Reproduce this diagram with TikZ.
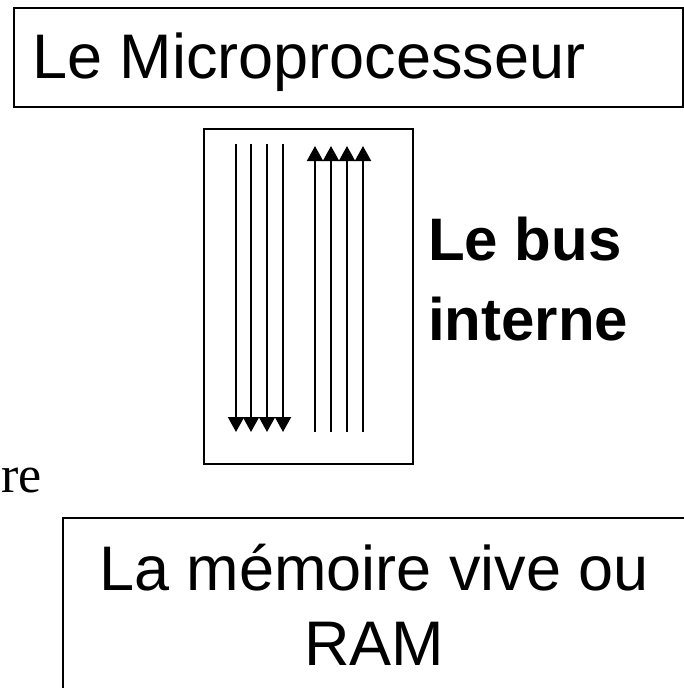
\documentclass[tikz,border=0pt]{standalone}
\usepackage{fontspec}
\setmainfont{Liberation Sans}
\newfontfamily\serifre{Liberation Serif}
\usetikzlibrary{arrows.meta}
\begin{document}
\begin{tikzpicture}[x=1pt,y=-1pt,
  boxframe/.style={draw,line width=1.6pt,inner sep=0,anchor=north west},
  bigtxt/.style={font=\fontsize{63}{75}\selectfont,inner sep=0},
  buslbl/.style={font=\fontsize{60}{80}\selectfont\bfseries,inner sep=0,anchor=base west},
  wire/.style={line width=2pt},
  tipend/.style={-{Triangle[width=16pt,length=15pt]}}]
\useasboundingbox (0,0) rectangle (684,688);
\clip (0,0) rectangle (684,688);
% top box
\node[boxframe,minimum width=669pt,minimum height=99pt] (topbox) at (13,7) {};
\node[bigtxt,anchor=base west] (toptxt) at (32,78) {Le Microprocesseur};
% bus box
\node[boxframe,minimum width=209pt,minimum height=335pt] (busbox) at (203,128) {};
\foreach \x in {236,251,267,283}{
  \draw[wire,tipend] (\x,144) -- (\x,432);
}
\foreach \x in {315,331,347,363}{
  \draw[wire,tipend] (\x,432) -- (\x,146);
}
\node[buslbl] (busA) at (428,260) {Le bus};
\node[buslbl] (busB) at (428,340) {interne};
% clipped serif text
\node[font=\serifre\fontsize{52}{60}\selectfont,inner sep=0,anchor=base east] (retxt) at (42,492) {re};
% bottom box
\node[boxframe,minimum width=660pt,minimum height=200pt] (rambox) at (62,517) {};
\node[bigtxt,anchor=base] (ramA) at (374,590) {La mémoire vive ou};
\node[bigtxt,anchor=base] (ramB) at (374,665) {RAM};
\end{tikzpicture}
\end{document}
